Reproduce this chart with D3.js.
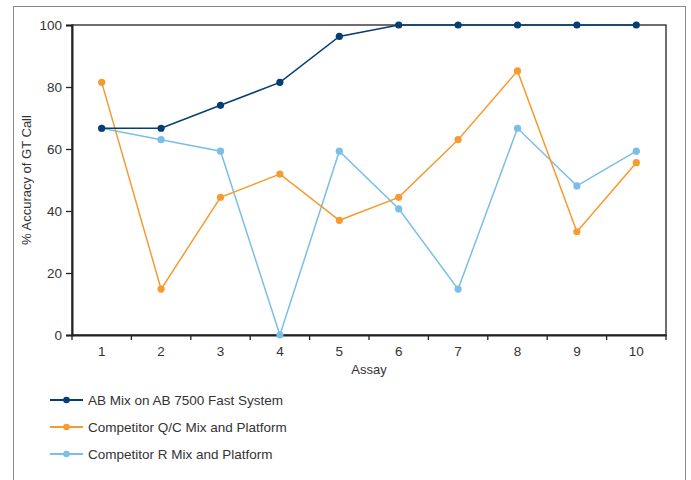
<!DOCTYPE html>
<html><head><meta charset="utf-8">
<script src="https://cdn.jsdelivr.net/npm/d3@7"></script>
<style>body{margin:0;background:#fff;} svg{display:block;font-family:"Liberation Sans",Arial,sans-serif;}</style>
</head><body>
<svg id="c" width="691" height="480"></svg>
<script>
const categories = ["1","2","3","4","5","6","7","8","9","10"];
const seriesNames = ["AB Mix on AB 7500 Fast System","Competitor Q/C Mix and Platform","Competitor R Mix and Platform"];
const abMix = [66.7,66.7,74.1,81.5,96.3,100,100,100,100,100];
const competitorQC = [81.5,14.8,44.4,51.9,37.0,44.4,63.0,85.2,33.3,55.6];
const competitorR = [66.7,63.0,59.3,0,59.3,40.7,14.8,66.7,48.1,59.3];
const yTicks = [0,20,40,60,80,100];
const colors = ["#053e75","#f79a30","#7bbfe6"];
const allSeries = [abMix, competitorQC, competitorR];

const svg = d3.select("#c");
// outer frame
svg.append("rect").attr("x",13.5).attr("y",6.5).attr("width",672).attr("height",490)
  .attr("fill","none").attr("stroke","#8a8a8a").attr("stroke-width",1);

const L=72,T=25,R=666,B=335;
const x = d3.scaleBand().domain(categories).range([L,R]);
const y = d3.scaleLinear().domain([0,100]).range([B,T]);

// plot box
svg.append("rect").attr("x",L).attr("y",T).attr("width",R-L).attr("height",B-T)
  .attr("fill","none").attr("stroke","#222").attr("stroke-width",1.3);

// y axis
const yAx = svg.append("g").attr("transform",`translate(${L},0)`)
  .call(d3.axisLeft(y).tickValues(yTicks).tickSize(6).tickPadding(4));
yAx.select(".domain").attr("stroke","#222").attr("stroke-width",2);
yAx.selectAll(".tick line").attr("stroke","#222").attr("stroke-width",1.3);
yAx.selectAll("text").attr("font-size",13.5).attr("fill","#333");

// x axis
const xAx = svg.append("g").attr("transform",`translate(0,${B})`)
  .call(d3.axisBottom(x).tickSize(0).tickPadding(11));
xAx.select(".domain").attr("stroke","#222").attr("stroke-width",2);
xAx.selectAll("text").attr("font-size",13.5).attr("fill","#333");
// tick marks at band boundaries
const bounds = categories.map(c=>x(c)).concat([R]);
xAx.selectAll(".bt").data(bounds).enter().append("line")
  .attr("x1",d=>d).attr("x2",d=>d).attr("y1",0).attr("y2",5)
  .attr("stroke","#222").attr("stroke-width",1.3);

// axis titles
svg.append("text").attr("transform",`translate(31,${(T+B)/2}) rotate(-90)`)
  .attr("text-anchor","middle").attr("font-size",13).attr("fill","#333").text("% Accuracy of GT Call");
svg.append("text").attr("x",(L+R)/2).attr("y",374).attr("text-anchor","middle")
  .attr("font-size",13).attr("fill","#333").text("Assay");

const cx = c => x(c)+x.bandwidth()/2;
const line = d3.line().x((d,i)=>cx(categories[i])).y(d=>y(d));

// draw series (light blue first, then orange, then dark on top)
[2,1,0].forEach(s=>{
  const g = svg.append("g");
  g.append("path").datum(allSeries[s]).attr("d",line).attr("fill","none")
    .attr("stroke",colors[s]).attr("stroke-width",1.5);
  g.selectAll("circle").data(allSeries[s]).enter().append("circle")
    .attr("cx",(d,i)=>cx(categories[i])).attr("cy",d=>y(d)).attr("r",3.6).attr("fill",colors[s]);
});

// legend
const legY = [400,427,454];
seriesNames.forEach((n,i)=>{
  const g = svg.append("g");
  g.append("line").attr("x1",50).attr("x2",83).attr("y1",legY[i]).attr("y2",legY[i])
    .attr("stroke",colors[i]).attr("stroke-width",2);
  g.append("circle").attr("cx",66.5).attr("cy",legY[i]).attr("r",3.3).attr("fill",colors[i]);
  g.append("text").attr("x",88).attr("y",legY[i]+4.8).attr("font-size",13.5).attr("fill","#333").text(n);
});
</script>
</body></html>
